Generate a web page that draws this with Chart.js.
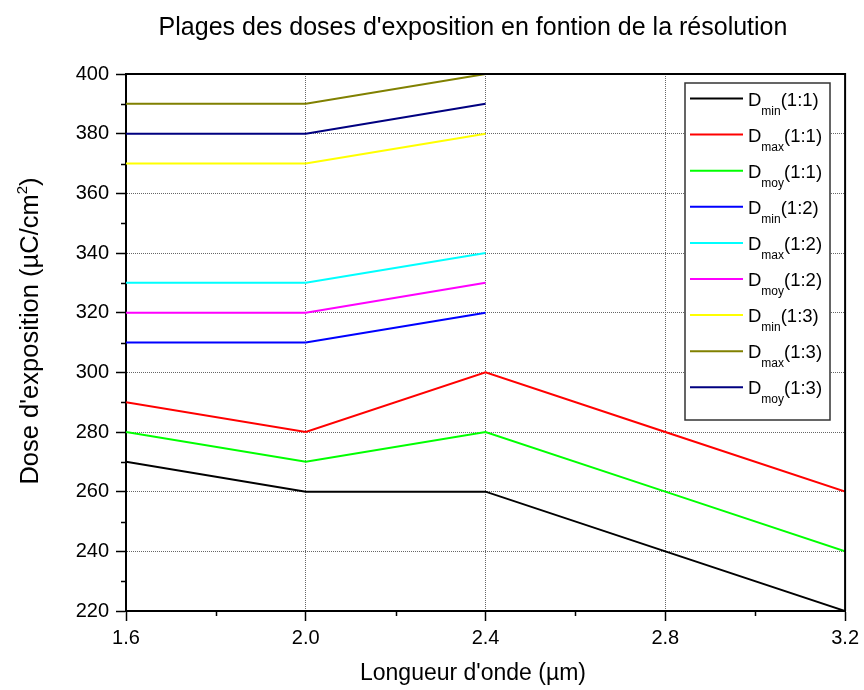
<!DOCTYPE html>
<html>
<head>
<meta charset="utf-8">
<title>Plages des doses d'exposition</title>
<script src="https://cdn.jsdelivr.net/npm/chart.js@4.4.1/dist/chart.umd.min.js"></script>
<style>
  html, body { margin: 0; padding: 0; background: #fff; }
  #wrap { width: 864px; height: 690px; }
</style>
</head>
<body>
<div id="wrap"><canvas id="doses" width="864" height="690"></canvas></div>
<script>
// ---- data ----
const wavelengths = [1.6, 2.0, 2.4, 2.8, 3.2];

const dMin11 = [270, 260, 260, 240, 220];
const dMax11 = [290, 280, 300, 280, 260];
const dMoy11 = [280, 270, 280, 260, 240];
const dMin12 = [310, 310, 320];
const dMax12 = [330, 330, 340];
const dMoy12 = [320, 320, 330];
const dMin13 = [370, 370, 380];
const dMax13 = [390, 390, 400];
const dMoy13 = [380, 380, 390];

const seriesSub   = ['min', 'max', 'moy', 'min', 'max', 'moy', 'min', 'max', 'moy'];
const seriesRatio = ['(1:1)', '(1:1)', '(1:1)', '(1:2)', '(1:2)', '(1:2)', '(1:3)', '(1:3)', '(1:3)'];
const seriesValues = [dMin11, dMax11, dMoy11, dMin12, dMax12, dMoy12, dMin13, dMax13, dMoy13];
const seriesColors = ['#000000', '#ff0000', '#00ff00', '#0000ff', '#00ffff',
                      '#ff00ff', '#ffff00', '#808000', '#000080'];

const xMin = 1.6, xMax = 3.2, xStep = 0.4;
const yMin = 220, yMax = 400, yStep = 20;

const FONT = '"Liberation Sans", Arial, Helvetica, sans-serif';

// draws a run of text pieces [{t, size, dy}] on one baseline
function drawRuns(ctx, runs, x, y, align) {
  let total = 0;
  runs.forEach(r => {
    ctx.font = r.size + 'px ' + FONT;
    r.w = ctx.measureText(r.t).width;
    total += r.w;
  });
  let x0 = x;
  if (align === 'center') x0 = x - total / 2;
  else if (align === 'right') x0 = x - total;
  ctx.save();
  ctx.textAlign = 'left';
  ctx.textBaseline = 'alphabetic';
  ctx.fillStyle = '#000';
  let cx = x0;
  runs.forEach(r => {
    ctx.font = r.size + 'px ' + FONT;
    ctx.fillText(r.t, cx, y + (r.dy || 0));
    cx += r.w;
  });
  ctx.restore();
}

// frame, minor ticks, titles, legend box
const decorations = {
  id: 'decorations',
  afterDatasetsDraw(chart) {
    const ctx = chart.ctx;
    const a = chart.chartArea;
    const xs = chart.scales.x, ys = chart.scales.y;

    ctx.save();
    ctx.strokeStyle = '#000';
    ctx.lineWidth = 2;
    ctx.beginPath();
    ctx.moveTo(a.left, a.top);
    ctx.lineTo(a.right, a.top);
    ctx.lineTo(a.right, a.bottom);
    ctx.stroke();

    // minor ticks halfway between majors
    ctx.lineWidth = 1.5;
    ctx.beginPath();
    for (let v = xMin + xStep / 2; v < xMax; v += xStep) {
      const px = Math.round(xs.getPixelForValue(v)) + 0.5;
      ctx.moveTo(px, a.bottom);
      ctx.lineTo(px, a.bottom + 5);
    }
    for (let v = yMin + yStep / 2; v < yMax; v += yStep) {
      const py = Math.round(ys.getPixelForValue(v)) + 0.5;
      ctx.moveTo(a.left, py);
      ctx.lineTo(a.left - 5, py);
    }
    ctx.stroke();
    ctx.restore();

    // legend
    const bx = 685, by = 83, bw = 145, bh = 337;
    ctx.save();
    ctx.fillStyle = '#fff';
    ctx.fillRect(bx, by, bw, bh);
    ctx.strokeStyle = '#333';
    ctx.lineWidth = 1.5;
    ctx.strokeRect(bx, by, bw, bh);
    for (let i = 0; i < seriesValues.length; i++) {
      const ly = 98.5 + i * 36.1;
      ctx.strokeStyle = seriesColors[i];
      ctx.lineWidth = 2;
      ctx.beginPath();
      ctx.moveTo(690, ly);
      ctx.lineTo(743, ly);
      ctx.stroke();
      drawRuns(ctx, [
        { t: 'D', size: 18.5, dy: 0 },
        { t: seriesSub[i], size: 12, dy: 9 },
        { t: seriesRatio[i], size: 18.5, dy: 0 }
      ], 748, ly + 7, 'left');
    }
    ctx.restore();

    // chart title
    drawRuns(ctx, [{ t: "Plages des doses d'exposition en fontion de la résolution", size: 25 }],
      473, 35, 'center');

    // x axis title
    drawRuns(ctx, [{ t: "Longueur d'onde (\u00b5m)", size: 23 }], 473, 680, 'center');

    // y axis title, rotated
    ctx.save();
    ctx.translate(38, 331);
    ctx.rotate(-Math.PI / 2);
    drawRuns(ctx, [
      { t: "Dose d'exposition (\u00b5C/cm", size: 25.5 },
      { t: '2', size: 15, dy: -11 },
      { t: ')', size: 25.5 }
    ], 0, 0, 'center');
    ctx.restore();
  }
};

const datasets = seriesValues.map((vals, i) => ({
  label: 'D' + seriesSub[i] + seriesRatio[i],
  data: vals.map((v, k) => ({ x: wavelengths[k], y: v })),
  borderColor: seriesColors[i],
  backgroundColor: seriesColors[i],
  borderWidth: 2,
  pointRadius: 0,
  tension: 0,
  fill: false
}));

new Chart(document.getElementById('doses'), {
  type: 'line',
  data: { datasets },
  options: {
    responsive: false,
    animation: false,
    layout: { padding: { top: 74, right: 17, left: 0, bottom: 0 } },
    plugins: {
      legend: { display: false },
      title: { display: false },
      tooltip: { enabled: false }
    },
    scales: {
      x: {
        type: 'linear',
        min: xMin,
        max: xMax,
        afterFit(scale) { scale.height = 79; },
        ticks: {
          stepSize: xStep,
          color: '#000',
          padding: 5,
          maxRotation: 0,
          font: { family: FONT, size: 20 },
          callback: v => v.toFixed(1)
        },
        grid: {
          color: '#666',
          lineWidth: 1,
          tickColor: '#000',
          tickLength: 10,
          tickWidth: 1.5
        },
        border: { color: '#000', width: 2, dash: [1, 1] }
      },
      y: {
        min: yMin,
        max: yMax,
        afterFit(scale) { scale.width = 126; },
        ticks: {
          stepSize: yStep,
          color: '#000',
          padding: 7,
          font: { family: FONT, size: 20 }
        },
        grid: {
          color: '#666',
          lineWidth: 1,
          tickColor: '#000',
          tickLength: 10,
          tickWidth: 1.5
        },
        border: { color: '#000', width: 2, dash: [1, 1] }
      }
    }
  },
  plugins: [decorations]
});
</script>
</body>
</html>
